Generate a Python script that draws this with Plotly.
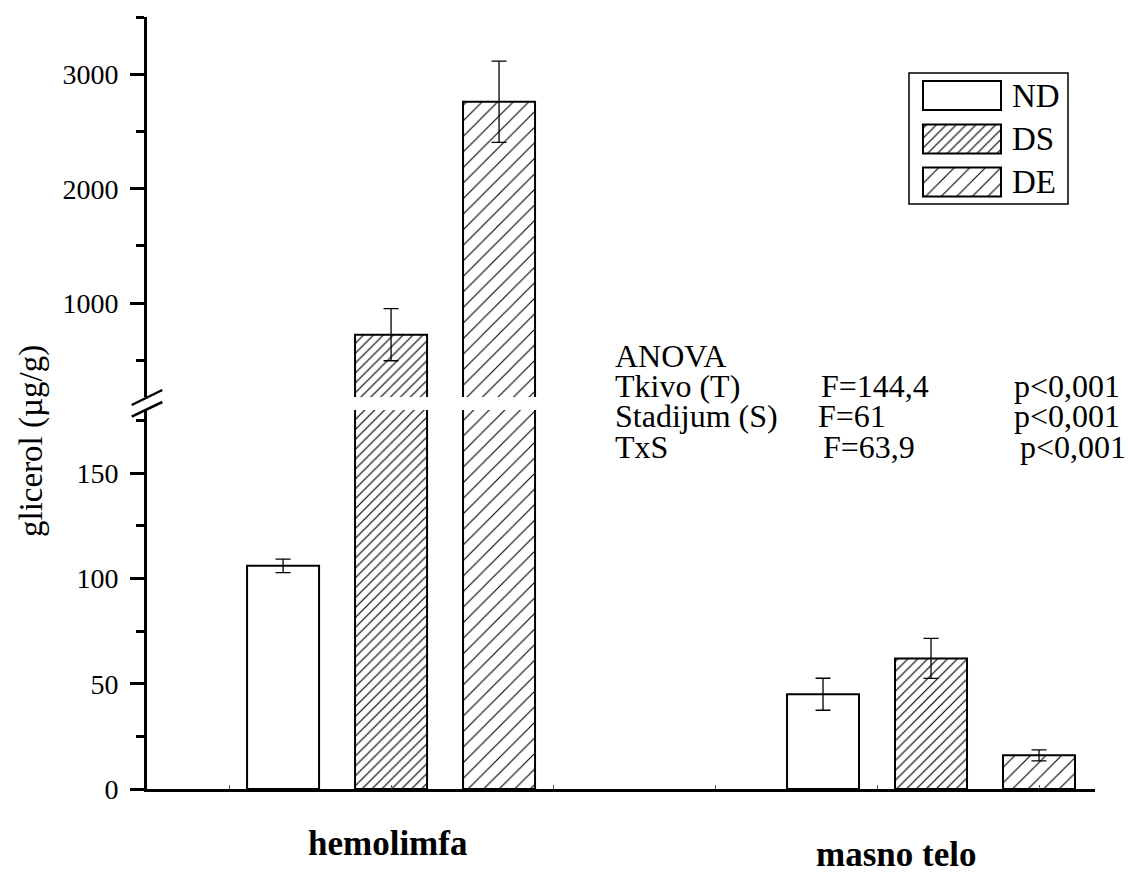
import plotly.graph_objects as go

# ---- data -------------------------------------------------------------
categories = ["hemolimfa", "masno telo"]
series = ["ND", "DS", "DE"]

nd_mean = [106, 45]
nd_err = [3.2, 7.6]
ds_mean = [725, 62]
ds_err = [228, 9.5]
de_mean = [2760, 16]
de_err = [355, 2.6]

lower_ticks = [0, 50, 100, 150]
upper_ticks = [1000, 2000, 3000]

anova_title = "ANOVA"
anova_effects = ["Tkivo (T)", "Stadijum (S)", "TxS"]
anova_F = ["F=144,4", "F=61", "F=63,9"]
anova_p = ["p<0,001", "p<0,001", "p<0,001"]

y_title = "glicerol (µg/g)"

# ---- layout constants ---------------------------------------------------
W, H = 1128, 872
L, R, T, B = 147, 33, 17, 83
PW, PH = W - L - R, H - T - B
FONT = "Liberation Serif, Times New Roman, serif"


def fx(px):
    return (px - L) / PW


def fy(py):
    return (H - B - py) / PH


lower_range = [0, 180]
upper_range = [180, 3501]
x_range = [-0.452, 1.3037]

styles = {
    "ND": dict(color="white", pattern=None),
    "DS": dict(color="white", pattern=dict(shape="/", size=7, solidity=0.17,
                                            fgcolor="black", bgcolor="white", fillmode="replace")),
    "DE": dict(color="white", pattern=dict(shape="/", size=11, solidity=0.1,
                                            fgcolor="black", bgcolor="white", fillmode="replace")),
}

means = {"ND": nd_mean, "DS": ds_mean, "DE": de_mean}
errs = {"ND": nd_err, "DS": ds_err, "DE": de_err}
xpos = list(range(len(categories)))

fig = go.Figure()

# each series is drawn on both halves of the broken y axis
for yax in ["y", "y2"]:
    for name in series:
        marker = dict(color=styles[name]["color"], line=dict(color="black", width=2))
        if styles[name]["pattern"]:
            marker["pattern"] = styles[name]["pattern"]
        fig.add_trace(go.Bar(
            x=xpos, y=means[name], name=name, xaxis="x", yaxis=yax,
            marker=marker, showlegend=False,
            error_y=dict(type="data", array=errs[name], visible=True,
                         color="black", thickness=1.3, width=7.5),
        ))

# legend keys drawn as bars on a hidden helper axis pair
key_box = dict(x0=909, x1=1068, y0=73, y1=204)
key_left, key_len, key_h = 923, 78, 29
key_centers = [95.5, 139, 182]
for name, yc in zip(series, key_centers):
    marker = dict(color=styles[name]["color"], line=dict(color="black", width=2))
    if styles[name]["pattern"]:
        marker["pattern"] = styles[name]["pattern"]
    fig.add_trace(go.Bar(
        orientation="h", y=[yc], x=[key_len], base=[key_left],
        width=[key_h], offset=-key_h / 2, xaxis="x3", yaxis="y3",
        marker=marker, showlegend=False, hoverinfo="skip",
    ))

axis_font = dict(family=FONT, size=28, color="black")

fig.update_layout(
    width=W, height=H, autosize=False,
    margin=dict(l=L, r=R, t=T, b=B),
    paper_bgcolor="white", plot_bgcolor="white",
    barmode="group", bargap=0.4, bargroupgap=1 / 3,
    showlegend=False,
    font=dict(family=FONT, color="black"),
    xaxis=dict(
        range=x_range, anchor="y", showline=True, linewidth=3, linecolor="black",
        showgrid=False, zeroline=False, showticklabels=False,
        tick0=0, dtick=0.3, ticks="inside", ticklen=4, tickwidth=1, tickcolor="#555",
    ),
    yaxis=dict(
        domain=[0, fy(410)], range=lower_range, anchor="x",
        showline=True, linewidth=3, linecolor="black", showgrid=False, zeroline=False,
        tickmode="array", tickvals=lower_ticks, ticks="outside", ticklen=14, tickwidth=3,
        tickcolor="black", tickfont=axis_font, ticklabelstandoff=6,
        minor=dict(tick0=0, dtick=25, ticks="outside", ticklen=8, tickwidth=3, tickcolor="black"),
    ),
    yaxis2=dict(
        domain=[fy(397), 1], range=upper_range, anchor="x",
        showline=True, linewidth=3, linecolor="black", showgrid=False, zeroline=False,
        tickmode="array", tickvals=upper_ticks, ticks="outside", ticklen=14, tickwidth=3,
        tickcolor="black", tickfont=axis_font, ticklabelstandoff=6,
        minor=dict(tick0=0, dtick=500, ticks="outside", ticklen=8, tickwidth=3, tickcolor="black"),
    ),
    xaxis3=dict(domain=[fx(key_box["x0"]), fx(key_box["x1"])],
                range=[key_box["x0"], key_box["x1"]], anchor="y3", visible=False),
    yaxis3=dict(domain=[fy(key_box["y1"]), fy(key_box["y0"])],
                range=[key_box["y1"], key_box["y0"]], anchor="x3", visible=False),
)

shapes = []
# axis break marks
for y_low, y_high in [(405, 390), (416.7, 402)]:
    shapes.append(dict(type="line", xref="paper", yref="paper",
                       x0=fx(131.7), y0=fy(y_low), x1=fx(162.3), y1=fy(y_high),
                       line=dict(color="black", width=2.5)))
# legend frame
shapes.append(dict(type="rect", xref="paper", yref="paper",
                   x0=fx(key_box["x0"]), x1=fx(key_box["x1"]),
                   y0=fy(key_box["y1"]), y1=fy(key_box["y0"]),
                   line=dict(color="black", width=1.5), fillcolor="rgba(0,0,0,0)"))
fig.update_layout(shapes=shapes)

ann = []
# legend labels
for name, yc in zip(series, key_centers):
    ann.append(dict(text=name, xref="paper", yref="paper", x=fx(1010), y=fy(yc),
                    xanchor="left", yanchor="middle", showarrow=False,
                    font=dict(family=FONT, size=33, color="black")))
# y axis title
ann.append(dict(text=y_title, xref="paper", yref="paper", x=fx(32), y=fy(441),
                xanchor="center", yanchor="middle", textangle=-90, showarrow=False,
                font=dict(family=FONT, size=33, color="black")))
# category labels under the axis
cat_shift = [-4, -35]
cat_y = [843, 854]
for i, (cat, dx, cy) in enumerate(zip(categories, cat_shift, cat_y)):
    ann.append(dict(text="<b>%s</b>" % cat, xref="x", yref="paper", x=xpos[i], xshift=dx,
                    y=fy(cy), xanchor="center", yanchor="middle", showarrow=False,
                    height=34, valign="middle",
                    font=dict(family=FONT, size=35, color="black")))
# ANOVA table, rows packed tightly
row_y = [356, 386, 416, 447]
TABLE_FONT = dict(family=FONT, size=32, color="black")
ann.append(dict(text=anova_title, xref="paper", yref="paper", x=fx(613), y=fy(row_y[0]),
                xanchor="left", yanchor="middle", showarrow=False, font=TABLE_FONT))
f_x = [819, 816, 821]
p_x = [1012, 1012, 1018]
for k in range(len(anova_effects)):
    for txt, xp in [(anova_effects[k], 613), (anova_F[k], f_x[k]), (anova_p[k], p_x[k])]:
        ann.append(dict(text=txt, xref="paper", yref="paper", x=fx(xp), y=fy(row_y[k + 1]),
                        xanchor="left", yanchor="middle", showarrow=False, font=TABLE_FONT))
fig.update_layout(annotations=ann)

fig.write_html("out.html", config={"displayModeBar": False})
